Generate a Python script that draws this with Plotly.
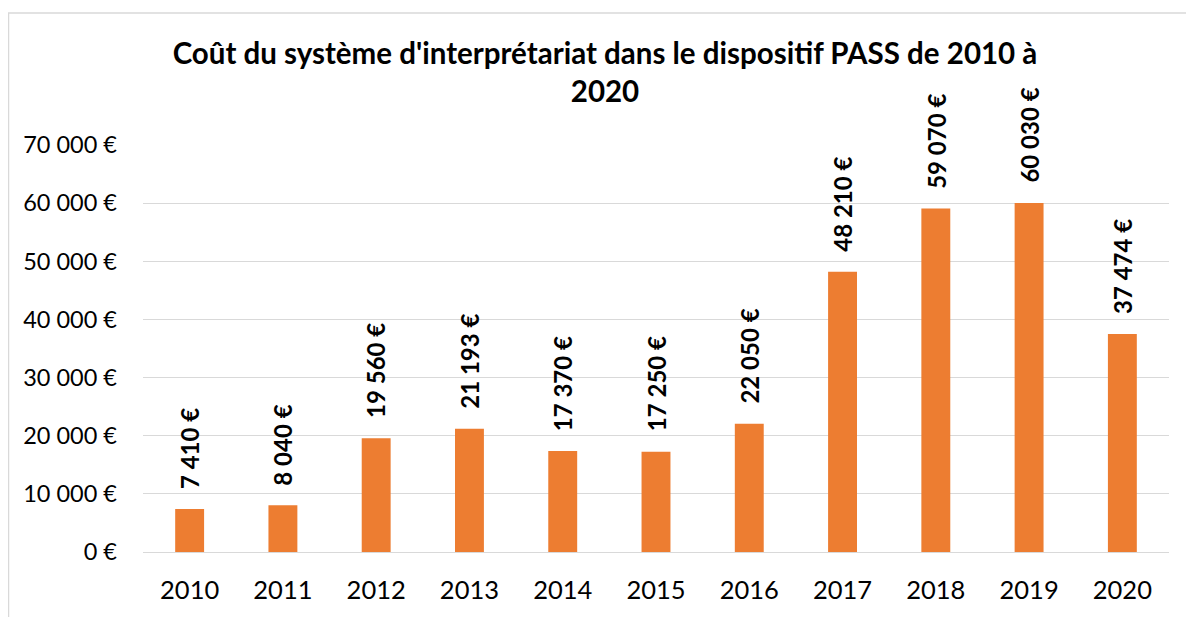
import plotly.graph_objects as go

years = ["2010", "2011", "2012", "2013", "2014", "2015", "2016", "2017", "2018", "2019", "2020"]
costs = [7410, 8040, 19560, 21193, 17370, 17250, 22050, 48210, 59070, 60030, 37474]
ytick_vals = [0, 10000, 20000, 30000, 40000, 50000, 60000, 70000]
title = "Coût du système d'interprétariat dans le dispositif PASS de 2010 à<br>2020"

def fmt(v):
    return f"{v:,}".replace(",", " ") + " €"

font = "Lato, 'Open Sans', sans-serif"

fig = go.Figure(go.Bar(
    x=years, y=costs,
    marker=dict(color="#ED7D31", line=dict(width=0)),
    hoverinfo="x+y",
))

for i, v in enumerate(costs):
    fig.add_annotation(x=i, y=v, text=fmt(v), textangle=-90, showarrow=False,
                       xanchor="center", yanchor="bottom", yshift=18,
                       font=dict(family=font, size=24, color="black", weight="bold"))

fig.update_layout(
    width=1194, height=617,
    margin=dict(l=135, r=33, t=137, b=73),
    paper_bgcolor="white", plot_bgcolor="white",
    bargap=0.69,
    showlegend=False,
    title=dict(text=title, x=0.5, xanchor="center", y=0.91, yanchor="top",
               font=dict(family=font, size=29.5, color="black", weight="bold")),
    font=dict(family=font, color="black"),
)
fig.update_yaxes(range=[0, 70000], tickvals=ytick_vals, ticktext=[fmt(v) for v in ytick_vals],
                 showgrid=True, gridcolor="#D9D9D9", gridwidth=1, zeroline=False,
                 tickfont=dict(family=font, size=23.5, color="black"),
                 ticklabelstandoff=25, showline=False)
fig.update_xaxes(type="category", range=[-0.5, len(years) - 0.5],
                 showline=True, linecolor="#D9D9D9", linewidth=1,
                 tickfont=dict(family=font, size=25.5, color="black"),
                 ticklabelstandoff=15)
fig.add_shape(type="rect", xref="paper", yref="paper",
              x0=-0.1311, x1=1.2, y0=-0.3, y1=1.3243,
              line=dict(color="#D9D9D9", width=1.5), fillcolor="rgba(0,0,0,0)", layer="below")

fig.write_html("out.html")
